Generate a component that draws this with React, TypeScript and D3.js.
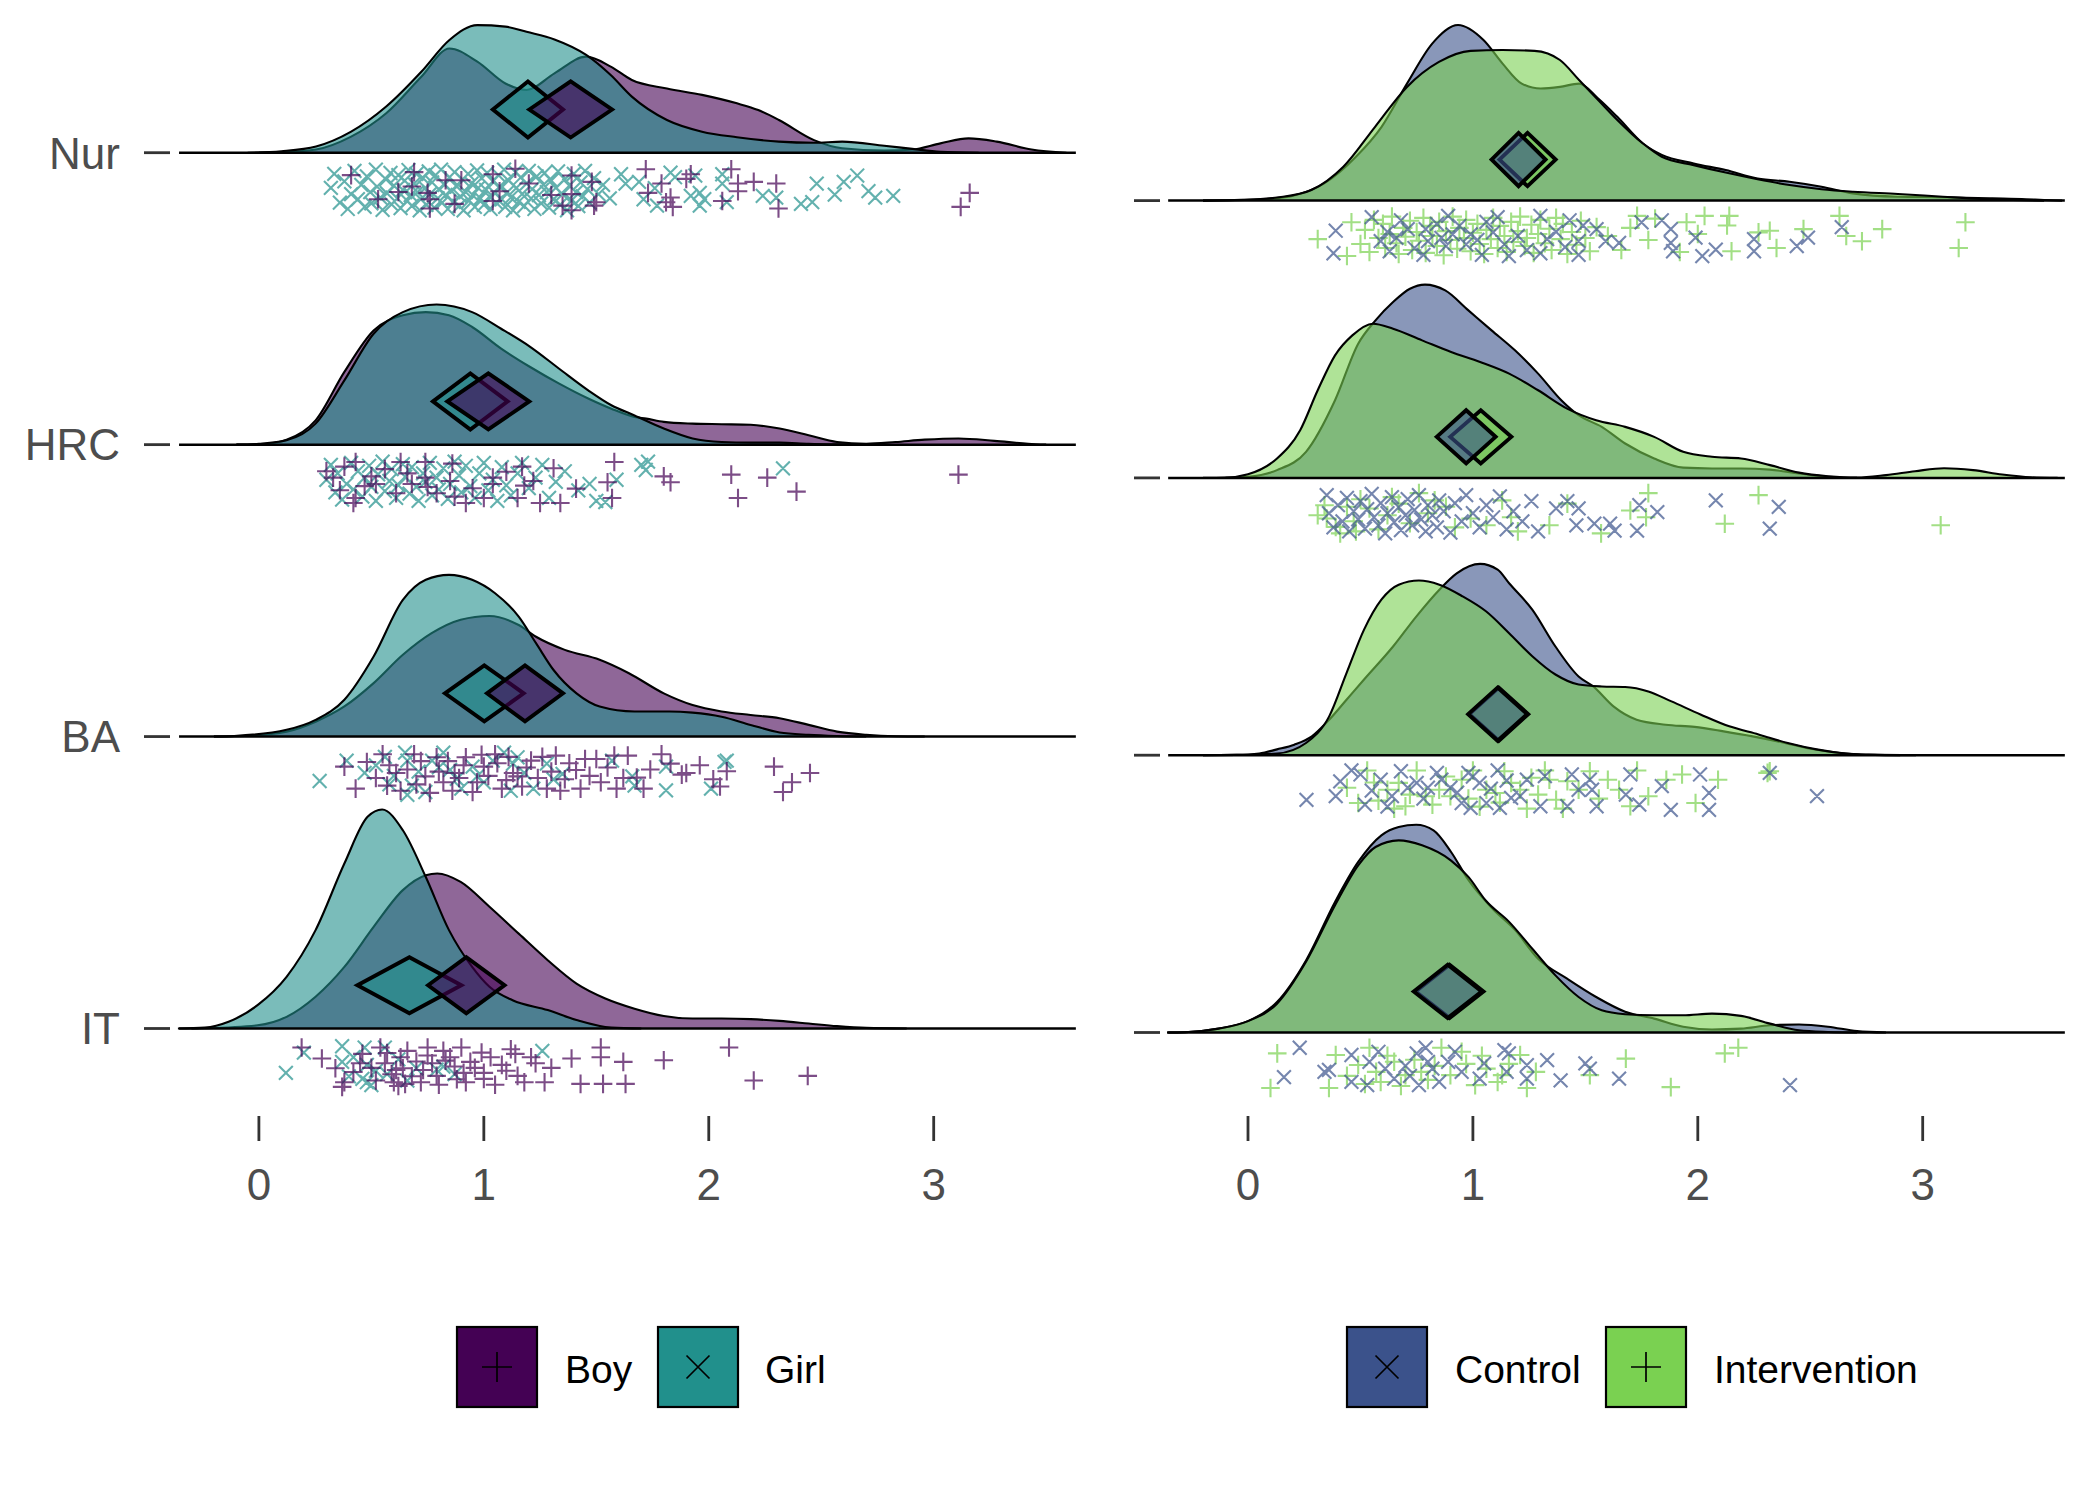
import React from 'react';
import * as d3 from 'd3';

const W = 2100;
const H = 1500;
const FONT = '"Liberation Sans", Arial, Helvetica, sans-serif';

// rows bottom -> top
const rowLabels = ['IT', 'BA', 'HRC', 'Nur'];
const tickValues = [0, 1, 2, 3];
const tickLabels = ['0', '1', '2', '3'];
const XMIN = -0.355;
const XMAX = 3.632;

const colors: Record<string, string> = { Boy: '#440154', Girl: '#21908C', Control: '#3B528B', Intervention: '#7AD151' };
const shapes: Record<string, string> = { Boy: 'plus', Girl: 'cross', Control: 'cross', Intervention: 'plus' };

// ---------- densities: [x, height in row units] ----------
const densNurBoy = [[0.0,0],[0.1,0.002],[0.254,0.011],[0.41,0.055],[0.566,0.135],[0.722,0.26],[0.847,0.357],[0.971,0.312],[1.096,0.237],[1.19,0.215],[1.314,0.272],[1.455,0.329],[1.564,0.295],[1.658,0.249],[1.814,0.22],[1.97,0.198],[2.125,0.169],[2.22,0.146],[2.312,0.112],[2.468,0.043],[2.593,0.015],[2.78,0.007],[2.905,0.011],[3.03,0.032],[3.155,0.049],[3.28,0.038],[3.435,0.011],[3.59,0]];
const densNurGirl = [[-0.05,0],[0.1,0.005],[0.254,0.021],[0.41,0.072],[0.566,0.158],[0.722,0.277],[0.847,0.386],[0.971,0.437],[1.096,0.432],[1.19,0.414],[1.314,0.388],[1.455,0.335],[1.564,0.266],[1.658,0.192],[1.814,0.112],[1.97,0.072],[2.125,0.053],[2.312,0.038],[2.468,0.034],[2.593,0.038],[2.78,0.024],[2.905,0.013],[3.03,0.003],[3.2,0]];
const densHrcBoy = [[-0.1,0],[0.0,0.001],[0.123,0.017],[0.252,0.083],[0.38,0.249],[0.51,0.391],[0.64,0.443],[0.742,0.454],[0.845,0.443],[0.948,0.403],[1.077,0.329],[1.206,0.266],[1.335,0.209],[1.464,0.158],[1.567,0.123],[1.67,0.095],[1.722,0.089],[1.8,0.078],[1.928,0.072],[2.057,0.07],[2.186,0.068],[2.315,0.055],[2.444,0.032],[2.57,0.009],[2.7,0.003],[2.83,0.009],[2.96,0.017],[3.11,0.021],[3.27,0.013],[3.42,0.003],[3.5,0]];
const densHrcGirl = [[-0.1,0],[0.0,0.003],[0.123,0.015],[0.252,0.072],[0.38,0.22],[0.51,0.38],[0.64,0.454],[0.79,0.48],[0.948,0.454],[1.077,0.397],[1.206,0.335],[1.335,0.26],[1.464,0.186],[1.567,0.135],[1.67,0.1],[1.8,0.055],[1.928,0.021],[2.057,0.009],[2.186,0.007],[2.315,0.007],[2.444,0.003],[2.57,0.001],[2.7,0]];
const densBaBoy = [[-0.2,0],[-0.11,0.001],[0.123,0.017],[0.252,0.051],[0.38,0.103],[0.51,0.183],[0.64,0.28],[0.768,0.354],[0.897,0.4],[1.025,0.413],[1.155,0.382],[1.232,0.342],[1.36,0.297],[1.515,0.263],[1.645,0.217],[1.8,0.148],[1.928,0.108],[2.057,0.086],[2.186,0.074],[2.315,0.063],[2.444,0.04],[2.57,0.017],[2.7,0.006],[2.83,0.001],[2.96,0]];
const densBaGirl = [[-0.2,0],[-0.11,0.002],[0.123,0.023],[0.252,0.057],[0.38,0.126],[0.51,0.274],[0.64,0.468],[0.742,0.537],[0.845,0.554],[0.948,0.537],[1.05,0.491],[1.155,0.411],[1.232,0.32],[1.31,0.228],[1.412,0.148],[1.515,0.103],[1.67,0.086],[1.825,0.086],[1.928,0.082],[2.057,0.068],[2.186,0.04],[2.315,0.014],[2.444,0.006],[2.57,0.002],[2.7,0]];
const densItBoy = [[-0.3,0],[-0.24,0.001],[-0.006,0.011],[0.123,0.04],[0.252,0.109],[0.38,0.211],[0.51,0.348],[0.64,0.474],[0.742,0.525],[0.793,0.531],[0.897,0.502],[1.025,0.417],[1.155,0.325],[1.284,0.234],[1.412,0.154],[1.54,0.103],[1.67,0.068],[1.8,0.043],[1.928,0.034],[2.057,0.034],[2.186,0.032],[2.315,0.026],[2.444,0.017],[2.57,0.008],[2.7,0.002],[2.88,0]];
const densItGirl = [[-0.36,0],[-0.24,0.003],[-0.135,0.023],[-0.006,0.08],[0.123,0.177],[0.252,0.337],[0.38,0.565],[0.483,0.725],[0.548,0.75],[0.64,0.679],[0.742,0.519],[0.845,0.337],[0.948,0.211],[1.025,0.143],[1.128,0.097],[1.284,0.063],[1.412,0.029],[1.567,0.003],[1.7,0]];

const densNurCtrl = [[-0.2,0],[-0.06,0.002],[0.112,0.008],[0.197,0.017],[0.339,0.062],[0.48,0.158],[0.594,0.266],[0.707,0.422],[0.82,0.567],[0.934,0.633],[1.047,0.579],[1.132,0.494],[1.217,0.422],[1.302,0.404],[1.387,0.41],[1.472,0.422],[1.557,0.368],[1.642,0.302],[1.756,0.206],[1.84,0.165],[1.982,0.134],[2.124,0.11],[2.266,0.08],[2.408,0.068],[2.55,0.05],[2.69,0.026],[2.89,0.014],[3.09,0.012],[3.31,0.008],[3.46,0.005],[3.54,0.002],[3.62,0]];
const densNurInt = [[-0.2,0],[-0.06,0.001],[0.14,0.012],[0.282,0.038],[0.424,0.122],[0.565,0.266],[0.707,0.41],[0.849,0.5],[0.99,0.54],[1.132,0.543],[1.274,0.54],[1.387,0.507],[1.472,0.435],[1.557,0.363],[1.642,0.291],[1.756,0.206],[1.84,0.158],[1.982,0.128],[2.124,0.101],[2.266,0.077],[2.408,0.056],[2.55,0.041],[2.69,0.032],[2.89,0.024],[3.09,0.014],[3.26,0.006],[3.4,0.002],[3.54,0]];
const densHrcCtrl = [[-0.1,0],[0.0,0.004],[0.129,0.028],[0.258,0.094],[0.387,0.28],[0.49,0.484],[0.567,0.568],[0.645,0.634],[0.72,0.682],[0.787,0.697],[0.877,0.676],[0.98,0.604],[1.083,0.532],[1.187,0.46],[1.29,0.376],[1.393,0.28],[1.47,0.226],[1.573,0.184],[1.677,0.124],[1.806,0.07],[1.935,0.037],[2.063,0.034],[2.192,0.034],[2.321,0.03],[2.45,0.016],[2.579,0.004],[2.708,0]];
const densHrcInt = [[-0.2,0],[-0.1,0.001],[0.0,0.013],[0.129,0.07],[0.232,0.172],[0.31,0.316],[0.387,0.442],[0.464,0.514],[0.555,0.556],[0.645,0.538],[0.774,0.496],[0.903,0.454],[1.032,0.418],[1.161,0.376],[1.29,0.316],[1.419,0.25],[1.548,0.208],[1.677,0.184],[1.806,0.148],[1.935,0.094],[2.063,0.076],[2.192,0.07],[2.321,0.046],[2.45,0.019],[2.579,0.006],[2.708,0.001],[2.837,0.01],[2.966,0.024],[3.095,0.035],[3.224,0.028],[3.353,0.012],[3.482,0.002],[3.6,0]];
const densBaCtrl = [[-0.2,0],[-0.05,0.001],[0.05,0.006],[0.129,0.021],[0.206,0.038],[0.284,0.068],[0.361,0.128],[0.438,0.2],[0.516,0.273],[0.645,0.392],[0.748,0.5],[0.851,0.597],[0.928,0.656],[1.032,0.69],[1.11,0.669],[1.161,0.62],[1.264,0.525],[1.367,0.392],[1.47,0.284],[1.535,0.248],[1.625,0.176],[1.728,0.128],[1.857,0.11],[1.986,0.102],[2.115,0.086],[2.244,0.068],[2.373,0.047],[2.502,0.023],[2.631,0.008],[2.76,0.002],[2.97,0]];
const densBaInt = [[-0.2,0],[-0.05,0.001],[0.129,0.006],[0.258,0.044],[0.361,0.14],[0.438,0.296],[0.516,0.453],[0.593,0.561],[0.67,0.615],[0.76,0.63],[0.851,0.615],[0.954,0.573],[1.058,0.519],[1.161,0.44],[1.264,0.357],[1.367,0.291],[1.47,0.255],[1.573,0.248],[1.677,0.246],[1.78,0.23],[1.883,0.194],[2.012,0.147],[2.14,0.104],[2.27,0.075],[2.4,0.044],[2.528,0.021],[2.657,0.006],[2.786,0.001],[2.9,0]];
const densItCtrl = [[-0.36,0],[-0.28,0.001],[-0.13,0.014],[0.0,0.041],[0.129,0.11],[0.258,0.26],[0.387,0.471],[0.49,0.615],[0.593,0.711],[0.67,0.741],[0.748,0.749],[0.825,0.729],[0.903,0.651],[0.98,0.55],[1.083,0.45],[1.187,0.37],[1.29,0.266],[1.419,0.194],[1.548,0.128],[1.677,0.075],[1.806,0.05],[1.935,0.021],[2.063,0.011],[2.192,0.014],[2.321,0.026],[2.45,0.029],[2.579,0.021],[2.708,0.005],[2.837,0]];
const densItInt = [[-0.36,0],[-0.28,0.001],[-0.13,0.014],[0.0,0.041],[0.129,0.104],[0.258,0.255],[0.387,0.459],[0.49,0.603],[0.567,0.669],[0.67,0.693],[0.774,0.675],[0.903,0.62],[0.98,0.561],[1.058,0.475],[1.161,0.399],[1.264,0.302],[1.367,0.206],[1.47,0.128],[1.573,0.08],[1.677,0.066],[1.806,0.062],[1.935,0.062],[2.063,0.068],[2.192,0.06],[2.321,0.032],[2.45,0.008],[2.579,0.002],[2.708,0]];

// ---------- jittered observations: [x, jitter 0..1 within band] ----------
const ptsNurBoy = [[0.41,0.15],[0.53,0.72],[0.62,0.55],[0.69,0.08],[0.68,0.42],[0.75,0.57],[0.76,0.72],[0.76,0.94],[0.83,0.27],[0.87,0.83],[0.9,0.27],[1.04,0.13],[1.07,0.53],[1.04,0.76],[1.14,0.0],[1.2,0.35],[1.3,0.62],[1.35,0.87],[1.39,0.16],[1.39,0.6],[1.39,0.98],[1.48,0.31],[1.49,0.87],[1.5,0.79],[1.72,0.01],[1.79,0.35],[1.73,0.57],[1.83,0.68],[1.81,0.79],[1.84,0.9],[1.92,0.13],[1.9,0.24],[2.1,0.01],[2.13,0.35],[2.2,0.31],[2.13,0.53],[2.3,0.35],[2.31,0.94],[2.06,0.76],[3.16,0.57],[3.12,0.9]];
const ptsNurGirl = [[2.48,0.35],[2.6,0.31],[2.66,0.16],[2.56,0.61],[2.71,0.53],[2.74,0.68],[2.82,0.64],[2.41,0.83],[2.46,0.79],[2.3,0.68],[2.24,0.64],[2.06,0.13],[2.06,0.35],[1.96,0.57],[1.98,0.72],[1.96,0.87],[2.08,0.79],[1.83,0.09],[1.85,0.2],[1.94,0.16],[1.92,0.64],[1.69,0.31],[1.76,0.46],[1.71,0.72],[1.77,0.87],[1.63,0.35],[1.61,0.13],
[0.32,0.45],[0.335,0.12],[0.36,0.8],[0.38,0.3],[0.395,0.95],[0.41,0.6],[0.425,0.05],[0.44,0.72],[0.455,0.38],[0.47,0.9],[0.48,0.18],[0.495,0.55],[0.5,0.82],[0.52,0.02],[0.525,0.42],[0.54,0.68],[0.55,0.97],[0.565,0.25],[0.57,0.58],[0.585,0.1],[0.59,0.84],[0.6,0.4],[0.615,0.7],[0.62,0.15],[0.63,0.93],[0.64,0.5],[0.648,0.28],[0.66,0.76],[0.665,0.03],[0.675,0.62],[0.68,0.88],[0.69,0.35],[0.7,0.12],[0.705,0.55],[0.715,0.98],[0.72,0.72],[0.73,0.22],[0.74,0.45],[0.745,0.85],[0.755,0.06],[0.76,0.6],[0.77,0.32],[0.78,0.92],[0.785,0.15],[0.795,0.7],[0.8,0.48],[0.81,0.02],[0.815,0.8],[0.825,0.38],[0.83,0.62],[0.84,0.95],[0.848,0.2],[0.855,0.52],[0.865,0.78],[0.87,0.08],[0.88,0.42],[0.89,0.88],[0.895,0.65],[0.905,0.25],[0.91,0.98],[0.92,0.55],[0.93,0.12],[0.935,0.75],[0.945,0.35],[0.95,0.62],[0.96,0.9],[0.97,0.04],[0.975,0.45],[0.985,0.7],[0.99,0.22],[1.0,0.85],[1.01,0.5],[1.015,0.1],[1.025,0.66],[1.03,0.95],[1.04,0.3],[1.05,0.58],[1.055,0.8],[1.065,0.15],[1.07,0.42],[1.08,0.72],[1.09,0.02],[1.095,0.9],[1.105,0.55],[1.11,0.28],[1.12,0.68],[1.13,0.98],[1.14,0.08],[1.145,0.45],[1.155,0.78],[1.165,0.2],[1.17,0.6],[1.18,0.88],[1.19,0.35],[1.2,0.05],[1.21,0.7],[1.215,0.48],[1.225,0.95],[1.235,0.18],[1.245,0.62],[1.255,0.82],[1.265,0.38],[1.27,0.1],[1.28,0.55],[1.29,0.92],[1.3,0.28],[1.31,0.72],[1.32,0.45],[1.33,0.06],[1.34,0.85],[1.35,0.6],[1.36,0.25],[1.37,0.98],[1.38,0.4],[1.39,0.75],[1.4,0.12],[1.41,0.55],[1.42,0.88],[1.43,0.32],[1.44,0.65],[1.45,0.05],[1.46,0.48],[1.47,0.8],[1.49,0.22],[1.51,0.6],[1.53,0.38],[1.56,0.7]];
const ptsHrcBoy = [[0.33,0.4],[0.38,0.14],[0.43,0.03],[0.43,0.88],[0.42,1.0],[0.5,0.37],[0.52,0.55],[0.61,0.77],[0.63,0.03],[0.68,0.55],[0.74,0.03],[0.74,0.4],[0.75,0.62],[0.79,0.77],[0.85,0.48],[0.86,0.07],[0.87,0.85],[0.92,1.0],[1.0,0.88],[1.04,0.4],[1.04,0.55],[1.1,0.26],[1.17,0.14],[1.18,0.59],[1.15,0.88],[1.22,0.48],[1.25,1.0],[1.31,0.18],[1.34,1.0],[1.41,0.66],[1.55,0.51],[1.58,0.03],[1.57,0.88],[1.8,0.37],[1.83,0.51],[2.1,0.33],[2.26,0.4],[2.13,0.88],[2.39,0.73],[3.11,0.33],[0.36,0.7],[0.47,0.6],[0.56,0.2],[0.66,0.3],[0.95,0.65],[0.3,0.25]];
const ptsHrcGirl = [[0.3,0.45],[0.32,0.1],[0.34,0.75],[0.35,0.3],[0.37,0.92],[0.39,0.55],[0.41,0.05],[0.42,0.68],[0.44,0.25],[0.46,0.85],[0.47,0.4],[0.49,0.12],[0.5,0.62],[0.52,0.95],[0.53,0.32],[0.55,0.02],[0.56,0.72],[0.58,0.48],[0.59,0.2],[0.61,0.88],[0.62,0.58],[0.64,0.08],[0.65,0.38],[0.67,0.78],[0.68,0.15],[0.7,0.62],[0.71,0.95],[0.73,0.3],[0.74,0.5],[0.76,0.05],[0.77,0.82],[0.79,0.4],[0.8,0.68],[0.82,0.18],[0.84,0.9],[0.85,0.55],[0.87,0.02],[0.89,0.35],[0.9,0.75],[0.92,0.12],[0.94,0.6],[0.96,0.88],[0.98,0.3],[1.0,0.05],[1.02,0.7],[1.04,0.45],[1.06,0.95],[1.08,0.15],[1.1,0.58],[1.12,0.82],[1.15,0.3],[1.17,0.05],[1.2,0.65],[1.23,0.4],[1.26,0.1],[1.29,0.88],[1.32,0.5],[1.36,0.25],[1.42,0.7],[1.47,0.55],[1.5,0.95],[1.54,0.98],[1.59,0.45],[1.7,0.1],[1.73,0.02],[1.72,0.22],[2.33,0.18]];
const ptsBaBoy = [[0.38,0.33],[0.43,0.85],[0.48,0.22],[0.55,0.04],[0.57,0.78],[0.61,0.48],[0.69,0.04],[0.74,0.56],[0.79,0.11],[0.82,0.7],[0.87,0.48],[0.92,0.11],[0.95,0.93],[1.0,0.33],[1.05,0.04],[1.08,0.85],[1.13,0.48],[1.15,0.56],[1.21,0.19],[1.28,0.85],[1.32,0.07],[1.36,0.63],[1.41,0.41],[1.45,0.15],[1.5,0.15],[1.52,0.7],[1.58,0.07],[1.59,0.85],[1.64,0.07],[1.68,0.59],[1.71,0.85],[1.79,0.04],[1.83,0.26],[1.88,0.52],[1.9,0.48],[2.02,0.63],[2.08,0.44],[2.29,0.33],[2.37,0.7],[2.33,0.93],[2.45,0.48],[0.52,0.6],[0.58,0.3],[0.63,0.9],[0.66,0.4],[0.7,0.75],[0.72,0.2],[0.76,0.95],[0.8,0.45],[0.84,0.2],[0.86,0.9],[0.89,0.6],[0.91,0.3],[0.97,0.7],[0.99,0.05],[1.02,0.55],[1.06,0.25],[1.1,0.65],[1.11,0.1],[1.17,0.8],[1.19,0.35],[1.24,0.6],[1.26,0.1],[1.3,0.45],[1.34,0.9],[1.38,0.25],[1.43,0.85],[1.47,0.55],[1.55,0.35],[1.62,0.6],[1.74,0.4],[1.96,0.3],[2.05,0.8]];
const ptsBaGirl = [[0.27,0.67],[0.39,0.19],[0.47,0.48],[0.52,0.3],[0.58,0.75],[0.65,0.0],[0.66,0.19],[0.68,0.78],[0.66,1.0],[0.71,0.45],[0.77,0.19],[0.74,0.93],[0.82,0.0],[0.85,0.41],[0.9,0.85],[0.95,0.33],[0.97,0.56],[1.04,0.19],[1.09,0.0],[1.13,0.26],[1.15,0.11],[1.18,0.48],[1.22,0.85],[1.28,0.26],[1.31,0.63],[1.0,0.7],[0.88,0.62],[0.8,0.35],[0.6,0.55],[0.56,0.1],[1.57,0.19],[1.66,0.56],[1.67,0.78],[1.81,0.33],[1.81,0.89],[2.01,0.85],[2.07,0.22],[2.08,0.19],[1.35,0.5],[1.12,0.9]];
const ptsItBoy = [[0.19,0.07],[0.28,0.33],[0.34,0.56],[0.38,0.89],[0.37,1.0],[0.46,0.22],[0.45,0.44],[0.54,0.07],[0.56,0.44],[0.59,0.7],[0.6,0.89],[0.63,0.3],[0.64,0.56],[0.65,0.93],[0.72,0.89],[0.75,0.07],[0.75,0.26],[0.77,0.44],[0.79,0.74],[0.82,0.15],[0.85,0.3],[0.87,0.52],[0.9,0.07],[0.91,0.67],[0.92,0.89],[0.94,0.41],[0.99,0.19],[1.0,0.67],[1.0,0.81],[1.08,0.48],[1.12,0.11],[1.14,0.22],[1.15,0.74],[1.18,0.89],[1.21,0.3],[1.23,0.44],[1.27,0.89],[1.39,0.33],[1.43,0.93],[1.52,0.07],[1.52,0.3],[1.53,0.93],[1.62,0.41],[1.63,0.93],[1.8,0.37],[2.09,0.07],[2.2,0.85],[2.44,0.74],[0.5,0.55],[0.52,0.85],[0.57,0.2],[0.61,0.6],[0.66,0.15],[0.68,0.75],[0.7,0.4],[0.73,0.6],[0.8,0.95],[0.83,0.38],[0.88,0.82],[0.96,0.55],[1.03,0.3],[1.05,0.95],[1.1,0.62],[1.3,0.55],[0.42,0.65],[0.62,0.98]];
const ptsItGirl = [[0.12,0.67],[0.2,0.19],[0.37,0.04],[0.37,0.41],[0.47,0.07],[0.48,0.48],[0.48,0.89],[0.56,0.07],[0.57,0.7],[0.7,0.56],[0.79,0.59],[0.82,0.52],[0.87,0.7],[1.26,0.15],[0.46,0.81],[0.5,0.96],[0.42,0.3],[0.62,0.35],[0.52,0.62],[0.66,0.85],[0.4,0.75]];

const ptsNurCtrl = [[0.39,0.37],[0.38,0.93],[0.55,0.03],[0.59,0.63],[0.63,0.88],[0.68,0.11],[0.71,0.33],[0.79,0.33],[0.8,0.63],[0.78,0.97],[0.89,0.0],[0.88,0.75],[0.91,0.46],[0.97,0.71],[0.99,0.46],[1.04,0.97],[1.11,0.03],[1.09,0.41],[1.14,0.71],[1.16,1.0],[1.3,0.0],[1.3,0.93],[1.33,0.58],[1.43,0.11],[1.47,0.63],[1.47,0.97],[1.49,0.24],[1.55,0.33],[1.59,0.63],[1.65,0.67],[1.75,0.16],[1.84,0.11],[1.88,0.33],[1.88,0.67],[1.89,0.88],[1.99,0.54],[2.02,1.0],[2.08,0.84],[2.25,0.58],[2.25,0.88],[2.44,0.75],[2.49,0.54],[2.64,0.28],[0.62,0.4],[0.66,0.55],[0.74,0.8],[0.84,0.2],[0.86,0.55],[0.94,0.25],[1.02,0.6],[1.06,0.15],[1.2,0.5],[1.24,0.85],[1.37,0.4],[1.41,0.78]];
const ptsNurInt = [[0.31,0.58],[0.46,0.16],[0.44,1.0],[1.73,0.0],[1.81,0.07],[1.95,0.16],[2.03,0.0],[2.14,0.0],[2.13,0.24],[2.15,0.88],[2.27,0.41],[2.32,0.37],[2.35,0.8],[2.47,0.33],[2.63,0.0],[2.66,0.5],[2.73,0.63],[2.82,0.33],[3.19,0.16],[3.16,0.8],[1.6,0.5],[1.66,0.85],[1.7,0.3],[1.78,0.6],[1.92,0.9],[2.0,0.45],
[0.5,0.7],[0.52,0.35],[0.54,0.9],[0.56,0.1],[0.58,0.55],[0.6,0.2],[0.61,0.8],[0.63,0.45],[0.64,0.02],[0.66,0.68],[0.67,0.95],[0.69,0.3],[0.7,0.52],[0.72,0.12],[0.73,0.85],[0.75,0.4],[0.76,0.62],[0.78,0.05],[0.79,0.92],[0.81,0.25],[0.82,0.5],[0.84,0.75],[0.85,0.15],[0.87,0.98],[0.88,0.38],[0.9,0.6],[0.91,0.02],[0.93,0.82],[0.94,0.3],[0.96,0.55],[0.97,0.1],[0.99,0.88],[1.0,0.42],[1.02,0.2],[1.03,0.7],[1.05,0.95],[1.06,0.35],[1.08,0.58],[1.09,0.05],[1.11,0.8],[1.12,0.25],[1.14,0.5],[1.15,0.9],[1.17,0.15],[1.18,0.65],[1.2,0.38],[1.21,0.02],[1.23,0.75],[1.24,0.55],[1.26,0.22],[1.27,0.92],[1.29,0.45],[1.3,0.1],[1.32,0.68],[1.34,0.32],[1.35,0.85],[1.37,0.05],[1.39,0.58],[1.4,0.2],[1.42,0.95],[1.44,0.4],[1.46,0.72],[1.48,0.12],[1.5,0.55],[1.52,0.88],[1.55,0.28]];
const ptsHrcCtrl = [[0.35,0.05],[0.36,0.5],[0.38,0.85],[0.4,0.3],[0.42,0.7],[0.44,0.12],[0.45,0.95],[0.47,0.45],[0.49,0.65],[0.5,0.2],[0.52,0.88],[0.53,0.4],[0.55,0.02],[0.56,0.6],[0.58,0.8],[0.59,0.25],[0.61,1.0],[0.62,0.5],[0.64,0.1],[0.65,0.72],[0.67,0.35],[0.68,0.92],[0.7,0.55],[0.71,0.15],[0.73,0.8],[0.74,0.42],[0.76,0.05],[0.77,0.65],[0.79,0.95],[0.8,0.3],[0.82,0.55],[0.84,0.85],[0.85,0.18],[0.87,0.45],[0.9,0.98],[0.92,0.25],[0.95,0.7],[0.97,0.05],[1.0,0.5],[1.03,0.85],[1.06,0.3],[1.09,0.6],[1.12,0.08],[1.15,0.9],[1.18,0.45],[1.22,0.7],[1.26,0.2],[1.29,0.95],[1.37,0.38],[1.42,0.2],[1.47,0.38],[1.46,0.8],[1.54,0.76],[1.61,0.76],[1.63,0.93],[1.73,0.93],[1.74,0.3],[1.82,0.47],[2.08,0.18],[2.32,0.88],[2.36,0.34]];
const ptsHrcInt = [[0.34,0.3],[0.35,0.63],[0.39,0.84],[0.41,1.0],[0.44,0.34],[0.47,0.7],[0.5,0.15],[0.54,0.38],[0.58,0.9],[0.62,0.55],[0.67,0.26],[0.72,0.75],[0.76,0.0],[0.8,0.5],[0.83,0.18],[0.88,0.34],[0.92,0.85],[0.99,0.63],[1.06,0.8],[1.13,0.18],[1.17,0.6],[1.2,0.95],[1.34,0.8],[1.42,0.26],[1.57,1.0],[1.7,0.43],[1.77,0.6],[1.78,0.0],[2.12,0.76],[2.27,0.05],[3.08,0.8],[0.31,0.55],[0.48,0.95],[0.64,0.1]];
const ptsBaCtrl = [[0.26,0.73],[0.39,0.64],[0.41,0.27],[0.46,0.0],[0.5,0.1],[0.52,0.85],[0.59,0.23],[0.64,0.64],[0.68,0.02],[0.71,0.43],[0.75,0.31],[0.8,0.43],[0.84,0.06],[0.86,0.23],[0.9,0.43],[0.95,0.81],[0.98,0.06],[0.99,0.93],[1.03,0.31],[1.06,0.81],[1.11,0.0],[1.12,0.93],[1.17,0.68],[1.21,0.64],[1.24,0.23],[1.3,0.89],[1.32,0.14],[1.42,0.89],[1.44,0.1],[1.47,0.48],[1.52,0.23],[1.53,0.48],[1.55,0.89],[1.68,0.6],[1.7,0.1],[1.74,0.85],[1.84,0.39],[1.88,0.98],[2.01,0.1],[2.05,0.56],[2.05,0.98],[2.32,0.06],[2.53,0.64],[0.55,0.5],[0.62,0.9],[0.78,0.7],[0.93,0.55],[1.0,0.15],[1.08,0.45],[1.15,0.25]];
const ptsBaInt = [[0.44,0.43],[0.49,0.81],[0.53,0.0],[0.56,0.3],[0.62,0.48],[0.67,0.31],[0.7,0.89],[0.75,0.0],[0.79,0.64],[0.85,0.48],[0.9,0.64],[0.95,0.23],[1.0,0.0],[1.06,0.48],[1.1,0.56],[1.14,0.02],[1.17,0.31],[1.21,0.48],[1.26,0.18],[1.32,0.0],[1.34,0.23],[1.37,0.73],[1.42,0.27],[1.47,0.48],[1.52,0.02],[1.6,0.23],[1.65,0.48],[1.7,0.89],[1.73,0.0],[1.78,0.64],[1.86,0.23],[1.93,0.1],[1.99,0.81],[2.09,0.23],[2.31,0.06],[2.32,0.02],[0.58,0.75],[0.65,0.95],[0.72,0.6],[0.82,0.85],[0.88,0.15],[0.98,0.7],[1.03,0.9],[1.12,0.8],[1.24,0.95],[1.29,0.6],[1.4,0.95],[1.56,0.7]];
const ptsItCtrl = [[0.23,0.0],[0.16,0.73],[0.34,0.6],[0.36,0.55],[0.46,0.18],[0.46,0.85],[0.54,0.35],[0.53,0.93],[0.61,0.52],[0.65,0.77],[0.75,0.14],[0.76,0.93],[0.79,0.0],[0.8,0.35],[0.82,0.52],[0.85,0.85],[0.89,0.35],[0.95,0.6],[1.03,0.77],[1.05,0.39],[1.14,0.06],[1.15,0.6],[1.16,0.14],[1.24,0.43],[1.24,0.77],[1.33,0.31],[1.39,0.81],[1.5,0.39],[1.52,0.52],[1.65,0.77],[2.41,0.93],[0.58,0.1],[0.7,0.45],[0.72,0.7],[0.92,0.1]];
const ptsItInt = [[0.13,0.14],[0.1,1.0],[0.36,1.0],[0.39,0.18],[0.49,0.43],[0.54,0.0],[0.57,0.6],[0.59,0.85],[0.65,0.35],[0.7,0.68],[0.77,0.6],[0.86,0.0],[0.9,0.68],[0.95,0.1],[1.01,0.93],[1.06,0.52],[1.11,0.85],[1.13,0.68],[1.21,0.18],[1.24,1.0],[1.28,0.6],[1.52,0.68],[1.68,0.27],[1.88,0.98],[2.12,0.14],[2.18,0.0],[0.44,0.7],[0.52,0.9],[0.62,0.2],[0.68,0.95],[0.74,0.3],[0.8,0.8],[0.83,0.45],[0.97,0.4],[1.04,0.2],[1.16,0.4]];

// ---------- group summaries (mean, half-width of the diamond), rows IT, BA, HRC, Nur ----------
const meanBoy = [0.922, 1.183, 1.02, 1.386];
const halfBoy = [0.17, 0.169, 0.182, 0.184];
const meanGirl = [0.669, 1.002, 0.94, 1.196];
const halfGirl = [0.231, 0.175, 0.166, 0.156];
const meanCtrl = [0.888, 1.11, 0.97, 1.203];
const halfCtrl = [0.151, 0.131, 0.131, 0.12];
const meanInt = [0.896, 1.115, 1.035, 1.243];
const halfInt = [0.151, 0.131, 0.136, 0.125];

const leftDens: Record<string, number[][][]> = {
  Boy: [densItBoy, densBaBoy, densHrcBoy, densNurBoy],
  Girl: [densItGirl, densBaGirl, densHrcGirl, densNurGirl],
};
const leftPts: Record<string, number[][][]> = {
  Boy: [ptsItBoy, ptsBaBoy, ptsHrcBoy, ptsNurBoy],
  Girl: [ptsItGirl, ptsBaGirl, ptsHrcGirl, ptsNurGirl],
};
const rightDens: Record<string, number[][][]> = {
  Control: [densItCtrl, densBaCtrl, densHrcCtrl, densNurCtrl],
  Intervention: [densItInt, densBaInt, densHrcInt, densNurInt],
};
const rightPts: Record<string, number[][][]> = {
  Control: [ptsItCtrl, ptsBaCtrl, ptsHrcCtrl, ptsNurCtrl],
  Intervention: [ptsItInt, ptsBaInt, ptsHrcInt, ptsNurInt],
};

const JIT_TOP = 0.055;
const JIT_SPAN = 0.145;
const DIA_OFF = 0.148;
const DIA_HALF = 0.096;

function markerPath(shape: string, x: number, y: number, s: number) {
  if (shape === 'plus') return `M${x - s},${y}H${x + s}M${x},${y - s}V${y + s}`;
  const c = s;
  return `M${x - c},${y - c}L${x + c},${y + c}M${x - c},${y + c}L${x + c},${y - c}`;
}

type PanelProps = {
  xRange: [number, number];
  yRange: [number, number];
  groups: string[];
  dens: Record<string, number[][][]>;
  pts: Record<string, number[][][]>;
  means: Record<string, number[]>;
  halves: Record<string, number[]>;
  labels: boolean;
  yTickX: [number, number];
};

function Panel(p: PanelProps) {
  const xs = d3.scaleLinear().domain([0, 3]).range(p.xRange);
  const ys = d3.scaleLinear().domain([0, 3]).range(p.yRange);
  const [g1, g2] = p.groups;
  const rowsTopDown = [3, 2, 1, 0];
  const els: React.ReactNode[] = [];

  rowsTopDown.forEach((r) => {
    [g1, g2].forEach((g) => {
      const d = p.dens[g][r] as [number, number][];
      const area = d3.area<[number, number]>()
        .x((v) => xs(v[0]))
        .y0(ys(r))
        .y1((v) => ys(r + v[1]))
        .curve(d3.curveMonotoneX);
      const line = d3.line<[number, number]>()
        .x((v) => xs(v[0]))
        .y((v) => ys(r + v[1]))
        .curve(d3.curveMonotoneX);
      els.push(<path key={`a-${g}-${r}`} d={area(d) || ''} fill={colors[g]} fillOpacity={0.6} stroke="none" />);
      els.push(<path key={`l-${g}-${r}`} d={line(d) || ''} fill="none" stroke="#000" strokeWidth={2.1} />);
    });
    els.push(<line key={`base-${r}`} x1={xs(XMIN)} x2={xs(XMAX)} y1={ys(r)} y2={ys(r)} stroke="#000" strokeWidth={2.5} />);
  });

  rowsTopDown.forEach((r) => {
    [g2, g1].forEach((g) => {
      const shape = shapes[g];
      const s = shape === 'plus' ? 9.3 : 6.9;
      const dd = (p.pts[g][r] as number[][]).map((pt) => markerPath(shape, xs(pt[0]), ys(r - JIT_TOP - JIT_SPAN * pt[1]), s)).join('');
      els.push(<path key={`p-${g}-${r}`} d={dd} fill="none" stroke={colors[g]} strokeOpacity={0.7} strokeWidth={2.1} />);
    });
  });

  rowsTopDown.forEach((r) => {
    [g2, g1].forEach((g) => {
      const m = p.means[g][r];
      const hw = p.halves[g][r];
      const c = r + DIA_OFF;
      const pts = [
        [xs(m - hw), ys(c)],
        [xs(m), ys(c + DIA_HALF)],
        [xs(m + hw), ys(c)],
        [xs(m), ys(c - DIA_HALF)],
      ].map((q) => q.join(',')).join(' ');
      els.push(<polygon key={`dm-${g}-${r}`} points={pts} fill={colors[g]} fillOpacity={0.6} stroke="#000" strokeWidth={3.9} strokeLinejoin="miter" />);
    });
  });

  // y axis ticks
  [0, 1, 2, 3].forEach((r) => {
    els.push(<line key={`yt-${r}`} x1={p.yTickX[0]} x2={p.yTickX[1]} y1={ys(r)} y2={ys(r)} stroke="#333333" strokeWidth={2.8} />);
    if (p.labels) {
      els.push(
        <text key={`yl-${r}`} x={120} y={ys(r)} dy="0.36em" textAnchor="end" fontFamily={FONT} fontSize={44} fill="#4D4D4D">
          {rowLabels[r]}
        </text>
      );
    }
  });

  // x axis ticks
  tickValues.forEach((t, i) => {
    els.push(<line key={`xt-${t}`} x1={xs(t)} x2={xs(t)} y1={1116} y2={1141} stroke="#333333" strokeWidth={2.8} />);
    els.push(
      <text key={`xl-${t}`} x={xs(t)} y={1200} textAnchor="middle" fontFamily={FONT} fontSize={44} fill="#4D4D4D">
        {tickLabels[i]}
      </text>
    );
  });

  return <g>{els}</g>;
}

function LegendKey({ x, y, group, label, tx }: { x: number; y: number; group: string; label: string; tx: number }) {
  const shape = shapes[group];
  const s = shape === 'plus' ? 15 : 11.5;
  return (
    <g>
      <rect x={x} y={y} width={80} height={80} fill={colors[group]} stroke="#000" strokeWidth={2.2} />
      <path d={markerPath(shape, x + 40, y + 40, s)} stroke="#000" strokeWidth={1.7} fill="none" />
      <text x={tx} y={y + 56} fontFamily={FONT} fontSize={39} fill="#000">{label}</text>
    </g>
  );
}

export default function App() {
  return (
    <svg width={W} height={H} style={{ position: 'absolute', left: 0, top: 0, background: '#fff' }} xmlns="http://www.w3.org/2000/svg">
      <rect x={0} y={0} width={W} height={H} fill="#fff" />
      <Panel
        xRange={[258.9, 933.7]}
        yRange={[1028.5, 152.7]}
        groups={['Boy', 'Girl']}
        dens={leftDens}
        pts={leftPts}
        means={{ Boy: meanBoy, Girl: meanGirl }}
        halves={{ Boy: halfBoy, Girl: halfGirl }}
        labels={true}
        yTickX={[144, 170]}
      />
      <Panel
        xRange={[1248, 1922.7]}
        yRange={[1032.5, 200.6]}
        groups={['Control', 'Intervention']}
        dens={rightDens}
        pts={rightPts}
        means={{ Control: meanCtrl, Intervention: meanInt }}
        halves={{ Control: halfCtrl, Intervention: halfInt }}
        labels={false}
        yTickX={[1134, 1160]}
      />
      <LegendKey x={457} y={1327} group="Boy" label="Boy" tx={565} />
      <LegendKey x={658} y={1327} group="Girl" label="Girl" tx={765} />
      <LegendKey x={1347} y={1327} group="Control" label="Control" tx={1455} />
      <LegendKey x={1606} y={1327} group="Intervention" label="Intervention" tx={1714} />
    </svg>
  );
}
